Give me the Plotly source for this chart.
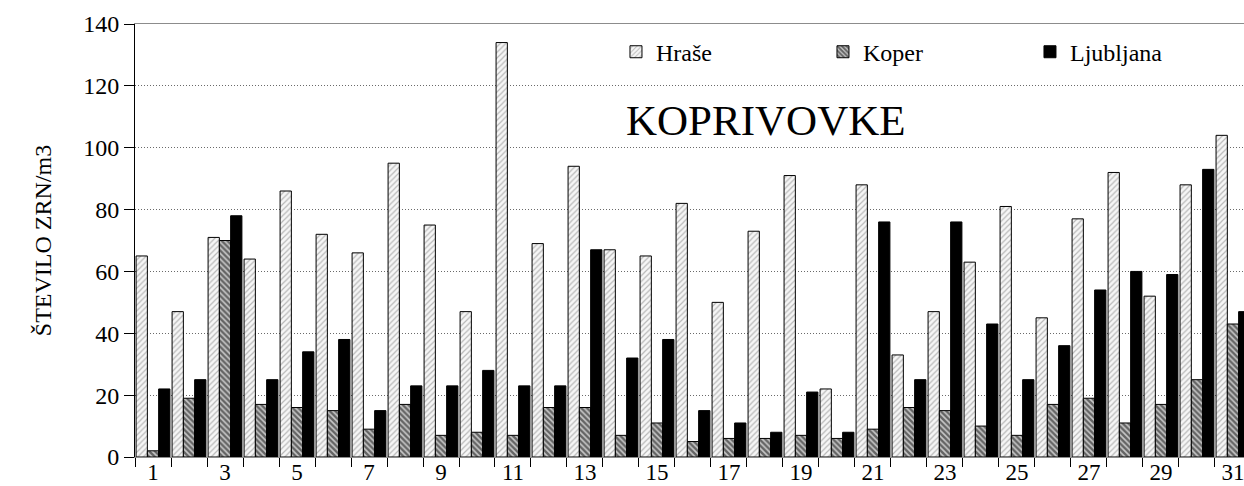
import plotly.graph_objects as go

days = list(range(1, 32))
hrase = [65, 47, 71, 64, 86, 72, 66, 95, 75, 47, 134, 69, 94, 67, 65, 82,
         50, 73, 91, 22, 88, 33, 47, 63, 81, 45, 77, 92, 52, 88, 104]
koper = [2, 19, 70, 17, 16, 15, 9, 17, 7, 8, 7, 16, 16, 7, 11, 5,
         6, 6, 7, 6, 9, 16, 15, 10, 7, 17, 19, 11, 17, 25, 43]
ljubljana = [22, 25, 78, 25, 34, 38, 15, 23, 23, 28, 23, 23, 67, 32, 38, 15,
             11, 8, 21, 8, 76, 25, 76, 43, 25, 36, 54, 60, 59, 93, 47]
label_days = list(range(1, 32, 2))
y_ticks = list(range(0, 141, 20))

FONT = "Liberation Serif"
outline = dict(color="black", width=1)

fig = go.Figure()
fig.add_trace(go.Bar(
    x=days, y=hrase, name="Hraše",
    marker=dict(color="white", line=outline,
                pattern=dict(shape="/", fgcolor="#7a7a7a", bgcolor="#f6f6f6",
                             size=4, solidity=0.3)),
))
fig.add_trace(go.Bar(
    x=days, y=koper, name="Koper",
    marker=dict(color="white", line=outline,
                pattern=dict(shape="\\", fgcolor="#000000", bgcolor="#c8c8c8",
                             size=4, solidity=0.6)),
))
fig.add_trace(go.Bar(
    x=days, y=ljubljana, name="Ljubljana",
    marker=dict(color="black", line=outline),
))

fig.add_annotation(
    text="KOPRIVOVKE", xref="paper", yref="paper", x=0.569, y=0.778,
    xanchor="center", yanchor="middle", showarrow=False,
    font=dict(family=FONT, size=43, color="black"),
)

fig.update_layout(
    width=1244, height=486,
    margin=dict(l=135, r=0, t=24, b=29, autoexpand=False),
    paper_bgcolor="white", plot_bgcolor="white",
    barmode="group", bargap=0.06, bargroupgap=0,
    font=dict(family=FONT, size=24, color="black"),
    showlegend=True,
    legend=dict(
        orientation="h", x=0.4337, xanchor="left", y=0.935, yanchor="middle",
        font=dict(family=FONT, size=24, color="black"),
        entrywidth=162, entrywidthmode="pixels",
        bgcolor="rgba(0,0,0,0)", traceorder="normal",
    ),
    xaxis=dict(
        range=[0.5, 30.806 + 0.5], tickmode="array", tickvals=label_days,
        ticktext=[str(d) for d in label_days], ticks="",
        showgrid=False, zeroline=False,
        showline=True, linecolor="#8c8c8c", linewidth=1, mirror=True,
        tickfont=dict(family=FONT, size=23, color="black"),
        ticklabelstandoff=-6, ticklabeloverflow="allow",
        minor=dict(tick0=0.5, dtick=1, ticks="outside", ticklen=9,
                   tickcolor="black", tickwidth=1, showgrid=False),
    ),
    yaxis=dict(
        range=[0, 140], tickmode="array", tickvals=y_ticks,
        ticks="outside", ticklen=10, tickcolor="black", tickwidth=1,
        showline=True, linecolor="black", linewidth=1,
        showgrid=True, gridcolor="#6a6a6a", griddash="1px,2px", gridwidth=1,
        zeroline=False,
        tickfont=dict(family=FONT, size=24, color="black"),
        title=dict(text="ŠTEVILO ZRN/m3", standoff=24,
                   font=dict(family=FONT, size=24, color="black")),
    ),
)

fig.write_html("out.html")
